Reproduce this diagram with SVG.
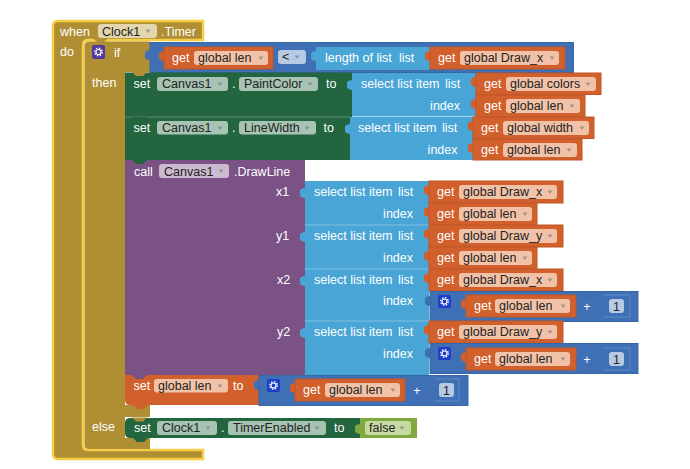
<svg xmlns="http://www.w3.org/2000/svg" width="690" height="469" viewBox="0 0 690 469">
<style>
text{font-family:"Liberation Sans",Arial,sans-serif;font-size:12.5px;fill:#fff}
text.d{fill:#222}
.o{fill:#D2602D}.ob{fill:#D2602D;stroke:#C0562A;stroke-width:1}.op{fill:#F2C2A8}
.g{fill:#23653F}.gl{stroke:#5E8F75;stroke-width:1}.gp{fill:#A6C3B3}
.p{fill:#7A5285}.pp{fill:#CBBAD0}
.l{fill:#48A5D5}.ll{stroke:#7FC0E2;stroke-width:1}
.b{fill:#3F70B5;stroke:#3566A6;stroke-width:1}.bt{fill:#3F70B5}.bp{fill:#B8CAE3}
.au{fill:#B08E34}
.lim{fill:#7DA93F}.limp{fill:#C6DAA2}
.gear{fill:#1F3FC8}.gear2{fill:#4F3A9C}
.tri{fill:#777;opacity:.6}
.num{fill:none;stroke:#5F8CC8;stroke-width:1}
</style>
<defs>
<path id="tab" d="M1 4C-2 4-5 5-5 7V11C-5 13-2 14 1 14Z"/>
<polygon id="tr" points="-2.5,-1.500 2.500,-1.500 0,2"/>
<path id="bump" d="M0 0L4 4H11L15 0Z"/>
<g id="cog">
<circle cx="6.500" cy="6.500" r="3.800" fill="none" stroke="#fff" stroke-width="1.300" stroke-dasharray="1.500 1.480"/>
<circle cx="6.500" cy="6.500" r="2.500" fill="none" stroke="#fff" stroke-width="1.200"/>
</g>
</defs>

<g id="when-timer">
<path class="au" stroke="#F5CE45" stroke-width="2.500" d="M53 26Q53 21 58 21H203V40H108L103 44H98L93 40H88Q83 40 83 45V445Q83 450 88 450H203V459H58Q53 459 53 454Z"/>
<text x="60" y="35.500">when</text>
<rect x="98" y="24" width="59" height="14" rx="3" fill="#E3D5AE"/><text class="d" x="102" y="35.500">Clock1</text><use href="#tr" x="148" y="31" class="tri"/>
<text x="161" y="35.500">.Timer</text>
<text x="60" y="56">do</text>
</g>

<g id="if-block">
<path class="au" d="M84.500 46Q84.500 41.500 89 41.500H150V72H125V405H150V417H125V438H150V449H89Q84.500 449 84.500 445Z"/>
<rect x="92" y="45" width="13" height="14" rx="2" class="gear2"/><use href="#cog" x="92" y="45.500"/>
<text x="114" y="56.500">if</text>
<text x="92" y="87">then</text>
<text x="92" y="431">else</text>
</g>

<g id="compare">
<rect x="150" y="42.500" width="423.500" height="30" class="b"/>
<use href="#tab" x="150" y="46" class="bt"/>
<g transform="translate(164 47)"><use href="#tab" class="o"/><rect class="ob" width="109" height="22"/><text x="8" y="15">get</text><rect class="op" x="30" y="4" width="74" height="14" rx="3"/><text class="d" x="34" y="15">global len</text><use href="#tr" x="97" y="11" class="tri"/></g>
<rect x="278" y="50" width="28" height="14" rx="3" class="bp"/><text class="d" x="282" y="61">&lt;</text><use href="#tr" x="297" y="57" class="tri"/>
<g transform="translate(316 47)"><use href="#tab" class="l"/><rect class="l" width="114" height="23"/><text x="9" y="15">length of list</text><text x="83" y="15">list</text></g>
<g transform="translate(430 47)"><use href="#tab" class="o"/><rect class="ob" width="135" height="22"/><text x="8" y="15">get</text><rect class="op" x="30" y="4" width="99" height="14" rx="3"/><text class="d" x="34" y="15">global Draw_x</text><use href="#tr" x="122" y="11" class="tri"/></g>
</g>

<g id="set-paintcolor">
<rect x="125" y="72.500" width="227" height="45" class="g"/>
<use href="#bump" x="132" y="72" class="au"/>
<text x="133.500" y="87.500">set</text>
<rect x="157" y="77" width="71" height="14" rx="3" class="gp"/><text class="d" x="162" y="87.500">Canvas1</text><use href="#tr" x="220" y="84" class="tri"/>
<text x="232" y="87.500">.</text>
<rect x="239" y="77" width="79" height="14" rx="3" class="gp"/><text class="d" x="244" y="87.500">PaintColor</text><use href="#tr" x="310" y="84" class="tri"/>
<text x="326" y="87.500">to</text>
</g>
<g id="select-colors">
<use href="#tab" x="352" y="76" class="l"/><rect x="352" y="73" width="124" height="43.500" class="l"/>
<text x="361" y="87.500">select list item</text><text x="445" y="87.500">list</text><text x="460" y="110" text-anchor="end">index</text>
<g transform="translate(476 73)"><use href="#tab" class="o"/><rect class="ob" width="125" height="21.500"/><text x="8" y="14.500">get</text><rect class="op" x="30" y="4" width="90" height="14" rx="3"/><text class="d" x="34" y="14.500">global colors</text><use href="#tr" x="112" y="11" class="tri"/></g>
<g transform="translate(476 95)"><use href="#tab" class="o"/><rect class="ob" width="109" height="21.500"/><text x="8" y="14.500">get</text><rect class="op" x="30" y="4" width="74" height="14" rx="3"/><text class="d" x="34" y="14.500">global len</text><use href="#tr" x="96" y="11" class="tri"/></g>
</g>

<g id="set-linewidth">
<rect x="125" y="117" width="225" height="43" class="g"/>
<path d="M125 117H350" class="gl" fill="none"/>
<use href="#bump" x="132" y="117" class="g"/>
<text x="133.500" y="131.500">set</text>
<rect x="157" y="121" width="71" height="13.500" rx="3" class="gp"/><text class="d" x="162" y="131.500">Canvas1</text><use href="#tr" x="220" y="128" class="tri"/>
<text x="232" y="131.500">.</text>
<rect x="239" y="121" width="77" height="13.500" rx="3" class="gp"/><text class="d" x="244" y="131.500">LineWidth</text><use href="#tr" x="307" y="128" class="tri"/>
<text x="323.500" y="131.500">to</text>
</g>
<g id="select-width">
<use href="#tab" x="350" y="120" class="l"/><rect x="350" y="117" width="123" height="43" class="l"/>
<text x="358" y="131.500">select list item</text><text x="442" y="131.500">list</text><text x="457.500" y="153.500" text-anchor="end">index</text>
<g transform="translate(473 117)"><use href="#tab" class="o"/><rect class="ob" width="121" height="21.500"/><text x="8" y="14.500">get</text><rect class="op" x="30" y="4" width="86" height="14" rx="3"/><text class="d" x="34" y="14.500">global width</text><use href="#tr" x="109" y="11" class="tri"/></g>
<g transform="translate(473 139)"><use href="#tab" class="o"/><rect class="ob" width="109" height="21"/><text x="8" y="14.500">get</text><rect class="op" x="30" y="4" width="74" height="14" rx="3"/><text class="d" x="34" y="14.500">global len</text><use href="#tr" x="96" y="11" class="tri"/></g>
</g>

<g id="call-drawline">
<rect x="125" y="160" width="180" height="215" class="p"/>
<use href="#bump" x="132" y="160" class="g"/>
<text x="134" y="175.500">call</text>
<rect x="159" y="164" width="70" height="14" rx="3" class="pp"/><text class="d" x="164" y="175.500">Canvas1</text><use href="#tr" x="221" y="171" class="tri"/>
<text x="234" y="175.500">.DrawLine</text>
<text x="276" y="195.500">x1</text><text x="276" y="239.500">y1</text><text x="277" y="283.500">x2</text><text x="277" y="336">y2</text>
</g>

<g id="select-x1">
<use href="#tab" x="305" y="184" class="l"/><rect x="305" y="181" width="124" height="44" class="l"/>
<text x="314" y="195.500">select list item</text><text x="398" y="195.500">list</text><text x="413" y="217.500" text-anchor="end">index</text>
<g transform="translate(429 181)"><use href="#tab" class="o"/><rect class="ob" width="134" height="22"/><text x="8" y="14.500">get</text><rect class="op" x="30" y="4" width="98" height="14" rx="3"/><text class="d" x="34" y="14.500">global Draw_x</text><use href="#tr" x="121" y="11" class="tri"/></g>
<g transform="translate(429 203)"><use href="#tab" class="o"/><rect class="ob" width="108" height="22"/><text x="8" y="14.500">get</text><rect class="op" x="30" y="4" width="73" height="14" rx="3"/><text class="d" x="34" y="14.500">global len</text><use href="#tr" x="96" y="11" class="tri"/></g>
</g>

<g id="select-y1">
<use href="#tab" x="305" y="228" class="l"/><rect x="305" y="225" width="124" height="44" class="l"/>
<path d="M305 225H429" class="ll" fill="none"/>
<text x="314" y="239.500">select list item</text><text x="398" y="239.500">list</text><text x="413" y="261.500" text-anchor="end">index</text>
<g transform="translate(429 225)"><use href="#tab" class="o"/><rect class="ob" width="134" height="22"/><text x="8" y="14.500">get</text><rect class="op" x="30" y="4" width="98" height="14" rx="3"/><text class="d" x="34" y="14.500">global Draw_y</text><use href="#tr" x="121" y="11" class="tri"/></g>
<g transform="translate(429 247)"><use href="#tab" class="o"/><rect class="ob" width="108" height="22"/><text x="8" y="14.500">get</text><rect class="op" x="30" y="4" width="73" height="14" rx="3"/><text class="d" x="34" y="14.500">global len</text><use href="#tr" x="96" y="11" class="tri"/></g>
</g>

<g id="select-x2">
<use href="#tab" x="305" y="272" class="l"/><rect x="305" y="269" width="124" height="52" class="l"/>
<path d="M305 269H429" class="ll" fill="none"/>
<text x="314" y="283.500">select list item</text><text x="398" y="283.500">list</text><text x="413" y="305" text-anchor="end">index</text>
<g transform="translate(429 269)"><use href="#tab" class="o"/><rect class="ob" width="134" height="22"/><text x="8" y="14.500">get</text><rect class="op" x="30" y="4" width="98" height="14" rx="3"/><text class="d" x="34" y="14.500">global Draw_x</text><use href="#tr" x="121" y="11" class="tri"/></g>
<g transform="translate(430 291)"><use href="#tab" x="0" y="1" class="bt"/><rect class="b" x="0" y="0.500" width="208" height="30"/><rect x="8" y="4" width="13" height="13" rx="2" class="gear"/><use href="#cog" x="8" y="4"/>
<g transform="translate(36 4)"><use href="#tab" class="o"/><rect class="ob" width="110" height="22"/><text x="8" y="15">get</text><rect class="op" x="29" y="4" width="75" height="14" rx="3"/><text class="d" x="33" y="15">global len</text><use href="#tr" x="97" y="11" class="tri"/></g>
<text x="157" y="19.500" text-anchor="middle">+</text>
<path class="num" d="M173 4H200V26H173"/><rect x="179" y="8" width="15" height="14" rx="3" class="bp"/><text class="d" x="186.500" y="19.500" text-anchor="middle">1</text>
</g>
</g>

<g id="select-y2">
<use href="#tab" x="305" y="324" class="l"/><rect x="305" y="321" width="124" height="54" class="l"/>
<path d="M305 321H429" class="ll" fill="none"/>
<text x="314" y="336">select list item</text><text x="398" y="336">list</text><text x="413" y="358" text-anchor="end">index</text>
<g transform="translate(429 321)"><use href="#tab" class="o"/><rect class="ob" width="134" height="22"/><text x="8" y="14.500">get</text><rect class="op" x="30" y="4" width="98" height="14" rx="3"/><text class="d" x="34" y="14.500">global Draw_y</text><use href="#tr" x="121" y="11" class="tri"/></g>
<g transform="translate(430 343)"><use href="#tab" x="0" y="1" class="bt"/><rect class="b" x="0" y="0.500" width="208" height="30"/><rect x="8" y="4" width="13" height="13" rx="2" class="gear"/><use href="#cog" x="8" y="4"/>
<g transform="translate(36 5)"><use href="#tab" class="o"/><rect class="ob" width="110" height="22"/><text x="8" y="15">get</text><rect class="op" x="29" y="4" width="75" height="14" rx="3"/><text class="d" x="33" y="15">global len</text><use href="#tr" x="97" y="11" class="tri"/></g>
<text x="157" y="20.500" text-anchor="middle">+</text>
<path class="num" d="M173 5H200V27H173"/><rect x="179" y="9" width="15" height="14" rx="3" class="bp"/><text class="d" x="186.500" y="20.500" text-anchor="middle">1</text>
</g>
</g>

<g id="set-global-len">
<path class="o" d="M125 375H259V405H148L144 409H137L133 405H130Q125 405 125 400Z"/>
<use href="#bump" x="132" y="375" class="p"/>
<text x="133.500" y="389.500">set</text>
<rect x="154" y="379" width="74" height="13.500" rx="3" class="op"/><text class="d" x="158" y="389.500">global len</text><use href="#tr" x="220" y="386" class="tri"/>
<text x="233" y="389.500">to</text>
<g transform="translate(259 375)"><use href="#tab" x="0" y="1" class="bt"/><rect class="b" x="0" y="0.500" width="209" height="30"/><rect x="8" y="4" width="13" height="13" rx="2" class="gear"/><use href="#cog" x="8" y="4"/>
<g transform="translate(36 4)"><use href="#tab" class="o"/><rect class="ob" width="110" height="22"/><text x="8" y="15">get</text><rect class="op" x="30" y="4" width="75" height="14" rx="3"/><text class="d" x="34" y="15">global len</text><use href="#tr" x="98" y="11" class="tri"/></g>
<text x="158" y="19.500" text-anchor="middle">+</text>
<path class="num" d="M176 4H200V26H176"/><rect x="180" y="8" width="15" height="14" rx="3" class="bp"/><text class="d" x="187.500" y="19.500" text-anchor="middle">1</text>
</g>
</g>

<g id="set-timerenabled">
<path class="g" d="M130 418H360V438H148L144 442H137L133 438H130Q125 438 125 433V423Q125 418 130 418Z"/>
<use href="#bump" x="132" y="417.500" class="au"/>
<text x="134" y="432">set</text>
<rect x="157" y="421" width="60" height="14" rx="3" class="gp"/><text class="d" x="162" y="432">Clock1</text><use href="#tr" x="208" y="428" class="tri"/>
<text x="221" y="432">.</text>
<rect x="228" y="421" width="98" height="14" rx="3" class="gp"/><text class="d" x="233" y="432">TimerEnabled</text><use href="#tr" x="317" y="428" class="tri"/>
<text x="334" y="432">to</text>
</g>
<g id="false-block">
<use href="#tab" x="360" y="420" class="lim"/><rect x="360" y="418" width="57" height="20" class="lim"/>
<rect x="365" y="421" width="46" height="14" rx="3" class="limp"/><text class="d" x="369" y="432">false</text><use href="#tr" x="402" y="428" class="tri"/>
</g>
</svg>
